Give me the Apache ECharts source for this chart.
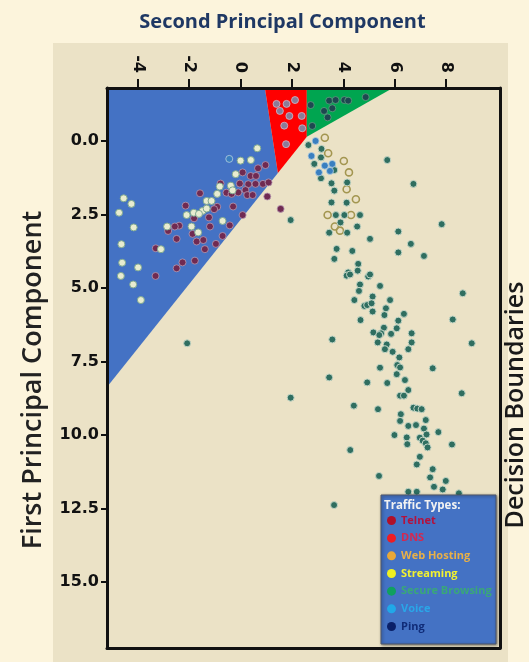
<!DOCTYPE html>
<html><head><meta charset="utf-8">
<script src="https://cdn.jsdelivr.net/npm/echarts@6/dist/echarts.min.js"></script>
<style>html,body{margin:0;padding:0;background:#fcf4dc;}#c{width:529px;height:662px;}</style>
</head><body><div id="c"></div>
<script>
// ---- axis ticks ----
const xTicks = [-4, -2, 0, 2, 4, 6, 8];
const yTicks = [0, 2.5, 5, 7.5, 10, 12.5, 15];
const xRange = [-5.2, 10.1];
const yRange = [-1.8, 17.24];

// ---- decision boundary regions (data coords) ----
const blueRegion = [[-5.2, -1.8], [0.947, -1.8], [1.453, 1.088], [-5.2, 8.367]];
const redRegion = [[0.947, -1.8], [2.58, -1.8], [2.58, -0.14], [1.453, 1.088]];
const greenRegion = [[2.58, -1.8], [5.93, -1.8], [2.58, -0.14]];

// ---- traffic samples: [second PC, first PC] ----
const telnet = [[0.97,0.82],[0.68,0.93],[0.08,1.07],[0.39,1.19],[0.60,1.19],[0.58,1.46],[0.87,1.46],[1.09,1.41],[-0.03,1.45],[0.30,1.47],[-0.78,1.45],[-0.55,1.76],[-0.35,1.80],[-0.09,1.75],[0.19,1.67],[0.26,1.84],[0.47,1.84],[-1.58,1.78],[-0.29,2.23],[-0.91,2.24],[-1.03,2.32],[-1.23,2.60],[-1.19,2.91],[0.08,2.52],[-0.42,2.87],[-2.14,2.20],[-1.81,2.63],[-2.39,2.88],[-2.56,2.91],[-2.82,3.06],[-2.49,3.33],[-1.87,3.16],[-1.71,3.42],[-1.45,3.37],[-1.39,3.68],[-0.96,3.50],[-0.70,3.23],[-3.30,3.65],[-2.26,4.13],[-2.49,4.33],[-1.78,4.07],[-3.31,4.59],[1.04,1.89],[1.56,2.31]];
const dns = [[1.40,-1.26],[1.79,-1.26],[2.12,-1.39],[1.53,-1.02],[1.90,-0.85],[2.38,-0.85],[1.70,-0.52],[2.40,-0.43],[1.77,0.11]];
const webHosting = [[3.28,-0.11],[3.41,0.42],[4.02,0.68],[4.22,1.07],[4.13,1.64],[4.49,1.98],[3.39,2.52],[4.30,2.52],[3.67,2.91],[3.87,3.05]];
const streaming = [[0.65,0.25],[0.0,0.67],[0.40,0.65],[-0.19,1.13],[-0.81,1.55],[-0.38,1.52],[-0.31,1.68],[-0.91,1.80],[-1.32,2.04],[-1.13,2.04],[-1.48,2.38],[-1.32,2.30],[-1.82,2.44],[-2.10,2.52],[-1.62,2.48],[-0.70,2.72],[-2.86,2.91],[-1.91,2.91],[-1.65,3.11],[-3.10,3.68],[-4.55,1.95],[-4.25,2.14],[-4.73,2.44],[-4.16,2.94],[-4.64,3.51],[-4.61,4.14],[-3.99,4.30],[-4.66,4.59],[-4.18,4.88],[-3.88,5.41]];
const secureBrowsing = [[2.64,0.14],[3.15,0.27],[3.13,0.56],[2.87,0.78],[3.65,0.99],[3.13,1.27],[3.54,1.44],[4.15,1.41],[3.65,1.69],[3.54,2.09],[4.13,2.10],[3.71,2.52],[4.04,2.52],[4.65,2.52],[3.89,2.77],[4.54,2.91],[3.45,3.12],[4.15,3.12],[5.04,3.33],[3.74,3.67],[4.35,3.74],[3.65,4.01],[4.58,4.18],[4.56,4.41],[4.19,4.47],[4.13,4.58],[4.26,4.54],[4.97,4.61],[5.04,4.54],[4.65,4.88],[4.61,5.10],[5.43,4.93],[5.14,5.29],[4.43,5.41],[5.82,5.41],[5.71,0.65],[6.73,1.46],[7.83,2.83],[6.14,3.08],[6.63,3.50],[6.14,3.79],[7.14,3.91],[8.65,5.18],[1.95,2.69],[4.82,5.61],[4.93,5.58],[5.10,5.52],[5.66,5.69],[5.14,5.80],[5.60,5.92],[6.36,5.88],[4.67,6.09],[6.14,6.11],[8.26,6.07],[6.08,6.37],[5.58,6.35],[5.17,6.51],[5.47,6.54],[5.40,6.60],[5.86,6.56],[6.66,6.54],[6.66,6.85],[5.34,6.85],[5.69,6.92],[5.62,7.08],[5.92,7.17],[6.53,7.08],[9.00,6.88],[3.57,6.75],[6.18,7.36],[6.10,7.62],[6.21,7.70],[5.43,7.71],[7.48,7.73],[3.45,8.04],[6.40,8.13],[4.93,8.21],[5.71,8.23],[6.08,7.93],[6.53,8.47],[6.21,8.66],[6.36,8.66],[8.61,8.58],[1.95,8.73],[4.41,9.00],[5.35,9.12],[6.73,9.07],[6.88,9.10],[7.05,9.12],[6.24,9.29],[6.21,9.52],[7.21,9.49],[6.53,9.69],[6.83,9.66],[7.14,9.78],[5.99,10.0],[7.24,9.98],[7.70,9.90],[6.47,10.08],[6.98,10.09],[7.09,10.19],[6.49,10.31],[7.21,10.28],[7.28,10.42],[8.23,10.32],[4.27,10.51],[6.98,10.74],[6.86,11.0],[7.48,11.16],[7.38,11.44],[5.39,11.39],[7.53,11.76],[7.99,11.56],[7.87,11.85],[6.53,11.93],[6.86,11.93],[8.50,11.98],[3.64,12.38],[-2.08,6.88]];
const voice = [[2.92,0.0],[2.76,0.51],[3.28,0.84],[3.57,0.78],[3.05,1.07],[3.48,1.02],[-0.44,0.61]];
const ping = [[2.73,-1.22],[2.79,-0.51],[3.25,-1.02],[3.39,-0.80],[3.57,-1.11],[3.45,-1.37],[3.70,-1.39],[4.04,-1.39],[4.19,-1.37],[4.87,-1.49]];

const chart = echarts.init(document.getElementById('c'), null, {renderer:'canvas'});

function region(name, pts, color) {
  return {
    type: 'custom', name: name, silent: true, z: 1, clip: true,
    encode: {x: 0, y: 1},
    data: pts,
    renderItem: function (params, api) {
      if (params.dataIndex !== 0) return null;
      return {type: 'polygon', shape: {points: pts.map(p => api.coord(p))}, style: {fill: color}};
    }
  };
}
function pts(name, data, fill, border, bw) {
  return {type: 'scatter', name: name, data: data, symbolSize: 7, z: 3,
    itemStyle: {color: fill, borderColor: border, borderWidth: bw, opacity: 1}};
}

const frameLine = {show: true, onZero: false, lineStyle: {color: '#111', width: 3}};

chart.setOption({
  backgroundColor: '#fcf4dc',
  animation: false,
  grid: {left: 107, right: 29, top: 88, bottom: 14, outerBoundsMode: 'none'},
  graphic: [
    {type: 'rect', z: -100, shape: {x: 53, y: 43, width: 455, height: 619}, style: {fill: '#ebe2c6'}},
    {type: 'rect', z: 50, shape: {x: 381, y: 495, width: 115, height: 149},
      style: {fill: '#4472c4', stroke: '#4d5568', lineWidth: 1, shadowBlur: 3, shadowColor: 'rgba(0,0,0,0.45)', shadowOffsetX: 1, shadowOffsetY: 1}},
    {type: 'text', z: 51, left: 384, top: 500,
      style: {text: 'Traffic Types:', fill: '#f2f2f2', font: 'bold 11.5px "Open Sans"'}},
    {type: 'text', z: 51, x: 516, y: 405, rotation: Math.PI / 2,
      style: {text: 'Decision Boundaries', fill: '#1a1a1a', font: '600 25px "Open Sans"', align: 'center', verticalAlign: 'middle'}}
  ],
  legend: {
    orient: 'vertical', left: 387, top: 515, padding: 0, z: 60,
    itemWidth: 9, itemHeight: 12, itemGap: 6.67,
    textStyle: {fontSize: 11, fontWeight: 'bold', fontFamily: 'Open Sans'},
    data: [
      {name: 'Telnet', icon: 'circle', itemStyle: {color: '#b0102a', borderWidth: 0}, textStyle: {color: '#b3123e'}},
      {name: 'DNS', icon: 'circle', itemStyle: {color: '#ee1c24', borderWidth: 0}, textStyle: {color: '#d42850'}},
      {name: 'Web Hosting', icon: 'circle', itemStyle: {color: '#e8a838', borderWidth: 0}, textStyle: {color: '#e8b048'}},
      {name: 'Streaming', icon: 'circle', itemStyle: {color: '#f0f020', borderWidth: 0}, textStyle: {color: '#f2f230'}},
      {name: 'Secure Browsing', icon: 'circle', itemStyle: {color: '#10a060', borderWidth: 0}, textStyle: {color: '#3aa878'}},
      {name: 'Voice', icon: 'circle', itemStyle: {color: '#20a8e8', borderWidth: 0}, textStyle: {color: '#2aa6e8'}},
      {name: 'Ping', icon: 'circle', itemStyle: {color: '#0a2068', borderWidth: 0}, textStyle: {color: '#102c78'}}
    ]
  },
  xAxis: [
    {type: 'value', position: 'top', min: xRange[0], max: xRange[1], z: 5,
      name: 'Second Principal Component', nameLocation: 'middle', nameGap: 56,
      nameTextStyle: {fontSize: 20, fontWeight: 'bold', color: '#1f3864', fontFamily: 'Open Sans', padding: [0, 42, 0, 0]},
      axisLine: frameLine,
      axisTick: {show: true, length: 9, customValues: xTicks, lineStyle: {color: '#111', width: 2}},
      axisLabel: {customValues: xTicks, rotate: 90, margin: 15, fontSize: 16, fontWeight: 'bold', fontFamily: 'DejaVu Sans', color: '#111'},
      splitLine: {show: false}},
    {type: 'value', position: 'bottom', min: xRange[0], max: xRange[1], z: 5,
      axisLine: frameLine, axisTick: {show: false}, axisLabel: {show: false}, splitLine: {show: false}}
  ],
  yAxis: [
    {type: 'value', position: 'left', inverse: true, min: yRange[0], max: yRange[1], z: 5,
      name: 'First Principal Component', nameLocation: 'middle', nameRotate: 90, nameGap: 60,
      nameTextStyle: {fontSize: 27, fontWeight: 600, color: '#222', fontFamily: 'Open Sans', padding: [0, 24, 0, 0]},
      axisLine: frameLine,
      axisTick: {show: true, length: 6, customValues: yTicks, lineStyle: {color: '#111', width: 2}},
      axisLabel: {customValues: yTicks, margin: 8, fontSize: 16, fontWeight: 'bold', fontFamily: 'DejaVu Sans', color: '#111',
        formatter: v => v.toFixed(1)},
      splitLine: {show: false}},
    {type: 'value', position: 'right', inverse: true, min: yRange[0], max: yRange[1], z: 5,
      axisLine: frameLine, axisTick: {show: false}, axisLabel: {show: false}, splitLine: {show: false}}
  ],
  series: [
    region('blue region', blueRegion, '#4472c4'),
    region('red region', redRegion, '#ff0000'),
    region('green region', greenRegion, '#00a550'),
    pts('Telnet', telnet, '#702a52', '#b79ab2', 0.8),
    pts('DNS', dns, '#8a7c98', '#d4b8c8', 0.8),
    pts('Web Hosting', webHosting, 'rgba(236,227,199,0.2)', '#a39650', 1.6),
    pts('Streaming', streaming, '#e8ecd0', '#7fa890', 1),
    pts('Secure Browsing', secureBrowsing, '#2f6e60', '#c4d6c6', 1),
    pts('Voice', voice, '#3a7fc0', '#b8d0e0', 0.8),
    pts('Ping', ping, '#1d4850', '#5f9f80', 0.8)
  ]
});
</script></body></html>
